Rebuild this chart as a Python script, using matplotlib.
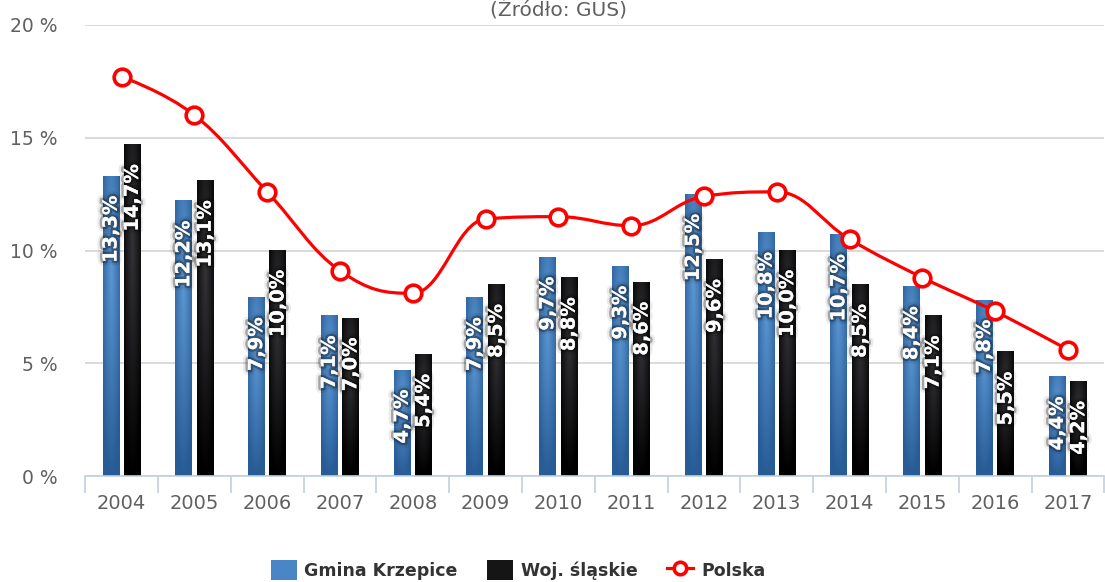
import numpy as np
import matplotlib
matplotlib.use("Agg")
import matplotlib.pyplot as plt
import matplotlib.patheffects as pe
from matplotlib.path import Path
from matplotlib.patches import PathPatch, Patch
from matplotlib.lines import Line2D

years = ["2004", "2005", "2006", "2007", "2008", "2009", "2010",
         "2011", "2012", "2013", "2014", "2015", "2016", "2017"]
krzepice = [13.3, 12.2, 7.9, 7.1, 4.7, 7.9, 9.7, 9.3, 12.5, 10.8, 10.7, 8.4, 7.8, 4.4]
slaskie = [14.7, 13.1, 10.0, 7.0, 5.4, 8.5, 8.8, 8.6, 9.6, 10.0, 8.5, 7.1, 5.5, 4.2]
polska = [17.7, 16.0, 12.6, 9.1, 8.1, 11.4, 11.5, 11.1, 12.4, 12.6, 10.5, 8.8, 7.3, 5.6]

plt.rcParams['font.family'] = ['DejaVu Sans']

fig = plt.figure(figsize=(11.05, 5.82), dpi=100)
fig.set_facecolor("#ffffff")
ax = fig.add_axes([85.3 / 1105, 1 - 476 / 582, 1019 / 1105, 451 / 582])

x = np.arange(len(years))
barWidth = 0.233
offset = 0.147


def grad_bar(xc, h, base, dark):
    # radial gradient like the highcharts columns
    u = np.linspace(0, 1, 24)
    v = np.linspace(0, 1, 120)
    uu, vv = np.meshgrid(u, v)
    d = np.sqrt(((uu - 0.5) / 0.7) ** 2 + ((vv - 0.3) / 0.7) ** 2)
    d = np.clip(d, 0, 1)[..., None]
    img = np.array(base)[None, None, :] * (1 - d) + np.array(dark)[None, None, :] * d
    ax.imshow(img, extent=(xc - barWidth / 2, xc + barWidth / 2, 0, h),
              origin="upper", aspect="auto", zorder=2, interpolation="bilinear")


blue = (0x5c / 255, 0x98 / 255, 0xd4 / 255)
blue_dk = (0x28 / 255, 0x5c / 255, 0x96 / 255)
black = (0x34 / 255, 0x34 / 255, 0x38 / 255)
black_dk = (0, 0, 0)

for i in range(len(years)):
    grad_bar(x[i] - offset, krzepice[i], blue, blue_dk)
    grad_bar(x[i] + offset, slaskie[i], black, black_dk)

# data labels
shadow = [pe.withStroke(linewidth=7, foreground=(0, 0, 0, 0.08)),
          pe.withStroke(linewidth=3.5, foreground=(0, 0, 0, 0.3))]
for i in range(len(years)):
    for xv, val in [(x[i] - offset, krzepice[i]), (x[i] + offset, slaskie[i])]:
        lab = ("%.1f%%" % val).replace(".", ",")
        ax.annotate(lab, (xv, val), xytext=(0, -14), textcoords="offset points",
                    rotation=90, ha="center", va="top", color="white",
                    fontsize=14, fontweight="bold", path_effects=shadow, zorder=3)


# spline (highcharts style smoothing)
def spline_path(xs, ys, smoothing=1.5):
    n = len(xs)
    denom = smoothing + 1
    right = [None] * n
    verts = [(xs[0], ys[0])]
    codes = [Path.MOVETO]
    for i in range(1, n):
        px, py = xs[i], ys[i]
        lcx, lcy = px, py
        if i < n - 1:
            lx, ly = xs[i - 1], ys[i - 1]
            nx, ny = xs[i + 1], ys[i + 1]
            lcx = (smoothing * px + lx) / denom
            lcy = (smoothing * py + ly) / denom
            rcx = (smoothing * px + nx) / denom
            rcy = (smoothing * py + ny) / denom
            corr = (rcy - lcy) * (rcx - px) / (rcx - lcx) + py - rcy
            lcy += corr
            rcy += corr
            if lcy > ly and lcy > py:
                lcy = max(ly, py)
                rcy = 2 * py - lcy
            elif lcy < ly and lcy < py:
                lcy = min(ly, py)
                rcy = 2 * py - lcy
            if rcy > ny and rcy > py:
                rcy = max(ny, py)
                lcy = 2 * py - rcy
            elif rcy < ny and rcy < py:
                rcy = min(ny, py)
                lcy = 2 * py - rcy
            right[i] = (rcx, rcy)
        prev = right[i - 1] if right[i - 1] is not None else (xs[i - 1], ys[i - 1])
        verts += [prev, (lcx, lcy), (px, py)]
        codes += [Path.CURVE4] * 3
    return Path(verts, codes)


ax.add_patch(PathPatch(spline_path(list(x.astype(float)), polska), facecolor="none",
                       edgecolor="#ff0000", linewidth=2.3, zorder=4, capstyle="round"))
ax.plot(x, polska, linestyle="none", marker="o", markersize=12, markerfacecolor="white",
        markeredgecolor="#ff0000", markeredgewidth=2.6, zorder=5)

ax.set_xlim(-0.5, len(years) - 0.5)
ax.set_ylim(0, 20)

# axes styling
for s in ["top", "right", "left"]:
    ax.spines[s].set_visible(False)
ax.spines["bottom"].set_color("#C0D0E0")
ax.spines["bottom"].set_linewidth(1.2)

ax.set_yticks([0, 5, 10, 15, 20])
ax.set_yticklabels(["0 %", "5 %", "10 %", "15 %", "20 %"])
ax.tick_params(axis="y", length=0, pad=20, labelsize=13.5, labelcolor="#606060")
ax.yaxis.grid(True, color="#D8D8D8", linewidth=1.3)
ax.set_axisbelow(True)

ax.set_xticks(np.arange(-0.5, len(years), 1.0))
ax.set_xticklabels([])
ax.tick_params(axis="x", which="major", length=12, width=1.2, color="#C0D0E0")
ax.set_xticks(x, minor=True)
ax.set_xticklabels(years, minor=True)
ax.tick_params(axis="x", which="minor", length=0, pad=13, labelsize=14, labelcolor="#606060")

fig.text(558 / 1105, 1 - 15 / 582, "(Źródło: GUS)", ha="center", va="baseline",
         fontsize=14.5, color="#606060")

handles = [Patch(facecolor="#4a86c5", edgecolor="none"),
           Patch(facecolor="#151515", edgecolor="none"),
           Line2D([0], [0], color="#ff0000", linewidth=2.3, marker="o", markersize=9,
                  markerfacecolor="white", markeredgecolor="#ff0000", markeredgewidth=2.6)]
leg = fig.legend(handles, ["Gmina Krzepice", "Woj. śląskie", "Polska"], ncol=3,
                 loc="center", bbox_to_anchor=(518 / 1105, 1 - 570 / 582), frameon=False,
                 prop={"size": 12.5, "weight": "bold"}, handlelength=1.5, handleheight=1.4,
                 handletextpad=0.45, columnspacing=1.7, numpoints=1)
for t in leg.get_texts():
    t.set_color("#333333")

plt.savefig("out.png", dpi=100)
